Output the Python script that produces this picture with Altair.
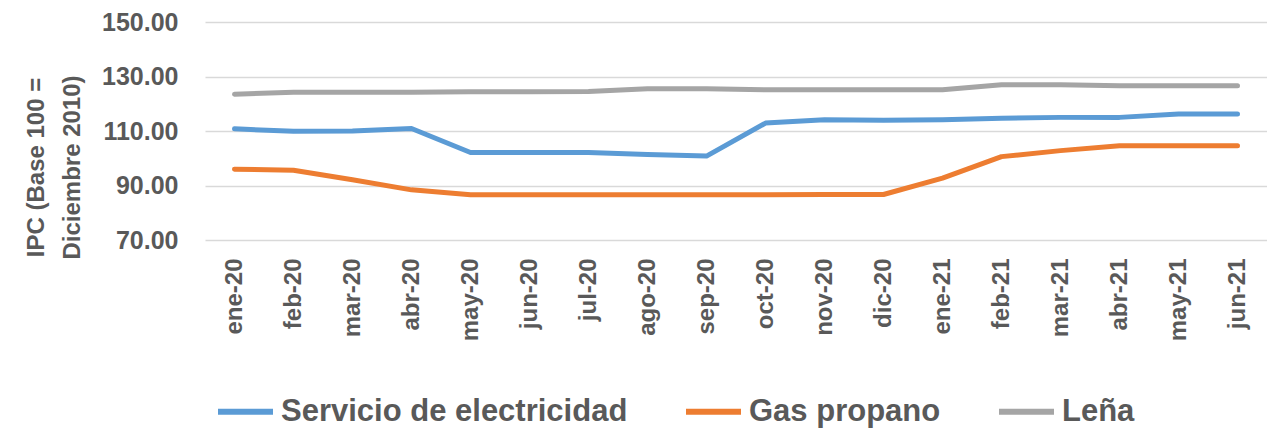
import altair as alt
import pandas as pd

meses = ["ene-20", "feb-20", "mar-20", "abr-20", "may-20", "jun-20", "jul-20", "ago-20",
         "sep-20", "oct-20", "nov-20", "dic-20", "ene-21", "feb-21", "mar-21", "abr-21",
         "may-21", "jun-21"]

electricidad = [110.8, 109.9, 110.0, 110.9, 102.1, 102.1, 102.1, 101.4, 100.8,
                112.9, 114.1, 113.9, 114.1, 114.7, 115.0, 115.0, 116.2, 116.2]
gas_propano = [96.0, 95.6, 92.1, 88.4, 86.6, 86.6, 86.6, 86.6, 86.6,
               86.6, 86.7, 86.7, 92.7, 100.6, 102.8, 104.6, 104.6, 104.6]
lena = [123.5, 124.2, 124.2, 124.2, 124.4, 124.4, 124.5, 125.5, 125.5,
        125.1, 125.1, 125.1, 125.1, 127.0, 127.0, 126.6, 126.6, 126.6]

series = ["Servicio de electricidad", "Gas propano", "Leña"]
colores = ["#5B9BD5", "#ED7D31", "#A5A5A5"]

rows = []
for nombre, vals in zip(series, [electricidad, gas_propano, lena]):
    for m, v in zip(meses, vals):
        rows.append({"mes": m, "serie": nombre, "valor": v})
df = pd.DataFrame(rows)

FONT = "Liberation Sans"
TXT = "#595959"

chart = alt.Chart(df).mark_line(strokeWidth=5, strokeCap="round", strokeJoin="round").encode(
    x=alt.X("mes:N", sort=meses, scale=alt.Scale(padding=0.5),
            axis=alt.Axis(title=None, labelAngle=-90, labelFontSize=24, labelFontWeight="bold",
                          labelColor=TXT, labelFont=FONT, labelPadding=18,
                          ticks=False, domain=False, grid=False)),
    y=alt.Y("valor:Q", scale=alt.Scale(domain=[70, 150], nice=False, zero=False),
            axis=alt.Axis(values=[70, 90, 110, 130, 150], format=".2f",
                          title=["IPC (Base 100 =", "Diciembre  2010)"],
                          titleFontSize=24, titleFontWeight="bold", titleColor=TXT, titleFont=FONT,
                          titleAngle=-90, titleAlign="center", titleBaseline="middle",
                          titleX=-169, titleY=145, titleLineHeight=36,
                          labelFontSize=25, labelFontWeight="bold", labelColor=TXT, labelFont=FONT,
                          labelPadding=27, ticks=False, domain=False,
                          grid=True, gridColor="#D9D9D9", gridWidth=1.5)),
    color=alt.Color("serie:N", sort=series,
                    scale=alt.Scale(domain=series, range=colores),
                    legend=alt.Legend(title=None, orient="none", direction="horizontal",
                                      legendX=10, legendY=359, padding=0,
                                      symbolType="stroke", symbolSize=3025, symbolStrokeWidth=6,
                                      labelFontSize=31, labelFontWeight="bold", labelColor=TXT,
                                      labelFont=FONT, labelOffset=5, columnPadding=46,
                                      labelLimit=600)),
).properties(
    width=1062, height=218,
    autosize=alt.AutoSizeParams(type="none"),
    padding={"left": 197, "top": 14, "right": 0, "bottom": 192},
).configure_view(stroke=None)

chart.save("out.html", embed_options={"renderer": "svg", "actions": False})
